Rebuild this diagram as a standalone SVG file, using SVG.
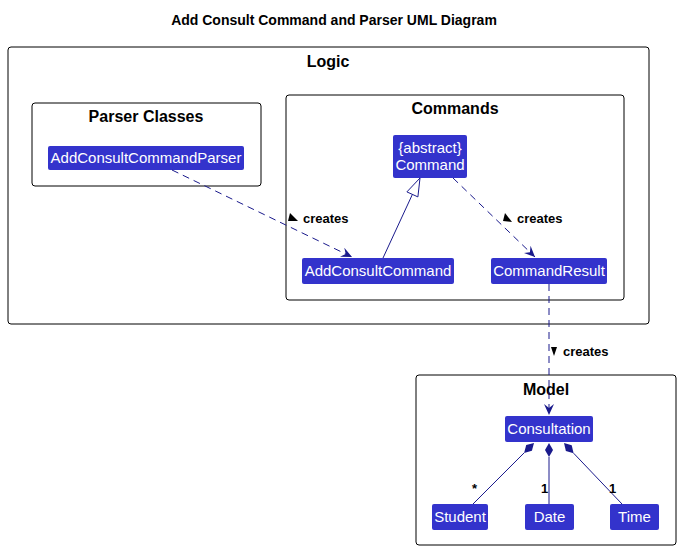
<svg xmlns="http://www.w3.org/2000/svg" width="680" height="551" viewBox="0 0 680 551">
<style>
.pkg{fill:none;stroke:#000;stroke-width:1}
.pt{font-family:"Liberation Sans",Arial,sans-serif;font-weight:bold;font-size:16px;fill:#000;text-anchor:middle}
.node{fill:#3333CC;stroke:none}
.nt{font-family:"Liberation Sans",Arial,sans-serif;font-size:15px;fill:#fff;text-anchor:middle}
.edge{fill:none;stroke:#1A1A8C;stroke-width:1}
.dash{stroke-dasharray:7,5}
.lbl{font-family:"Liberation Sans",Arial,sans-serif;font-weight:bold;font-size:13px;fill:#000}
.tri{fill:#000}
</style>
<defs>
<marker id="open" viewBox="0 0 11 10" refX="11" refY="5" markerWidth="11" markerHeight="10" markerUnits="userSpaceOnUse" orient="auto">
<path d="M0,0 L11,5 L0,10 L4,5 Z" fill="#1A1A8C"/>
</marker>
</defs>
<rect width="680" height="551" fill="#fff"/>
<text x="334" y="25" font-family="Liberation Sans,Arial,sans-serif" font-weight="bold" font-size="14" text-anchor="middle">Add Consult Command and Parser UML Diagram</text>

<g id="logic">
<rect class="pkg" x="8" y="47" width="641" height="277" rx="3"/>
<text class="pt" x="328" y="67">Logic</text>
</g>
<g id="parser-classes">
<rect class="pkg" x="32" y="103" width="229" height="83" rx="3"/>
<text class="pt" x="146" y="122">Parser Classes</text>
</g>
<g id="commands">
<rect class="pkg" x="286" y="95" width="338" height="205" rx="3"/>
<text class="pt" x="455" y="114">Commands</text>
</g>
<g id="model">
<rect class="pkg" x="416" y="375" width="260" height="170" rx="3"/>
<text class="pt" x="546" y="395">Model</text>
</g>

<g id="AddConsultCommandParser">
<rect class="node" x="48" y="146" width="196" height="24" rx="2"/>
<text class="nt" x="146" y="163">AddConsultCommandParser</text>
</g>
<g id="Command">
<rect class="node" x="393" y="135" width="74" height="43" rx="2"/>
<text class="nt" x="430" y="153">{abstract}</text>
<text class="nt" x="430" y="170">Command</text>
</g>
<g id="AddConsultCommand">
<rect class="node" x="302" y="258" width="152" height="26" rx="2"/>
<text class="nt" x="378" y="276">AddConsultCommand</text>
</g>
<g id="CommandResult">
<rect class="node" x="491" y="258" width="116" height="26" rx="2"/>
<text class="nt" x="549" y="276">CommandResult</text>
</g>
<g id="Consultation">
<rect class="node" x="505" y="416" width="88" height="26" rx="2"/>
<text class="nt" x="549" y="434">Consultation</text>
</g>
<g id="Student">
<rect class="node" x="432" y="504" width="56" height="26" rx="2"/>
<text class="nt" x="460" y="522">Student</text>
</g>
<g id="Date">
<rect class="node" x="525" y="504" width="49" height="26" rx="2"/>
<text class="nt" x="549.5" y="522">Date</text>
</g>
<g id="Time">
<rect class="node" x="610" y="504" width="49" height="26" rx="2"/>
<text class="nt" x="634.5" y="522">Time</text>
</g>

<g id="connectors">
<line class="edge dash" x1="172" y1="170" x2="352" y2="257" marker-end="url(#open)"/>
<polygon class="tri" points="290,213 298,221 288,221"/>
<text class="lbl" x="303" y="223">creates</text>

<line class="edge dash" x1="453" y1="178" x2="535" y2="257" marker-end="url(#open)"/>
<polygon class="tri" points="505,213 512,222 503,221"/>
<text class="lbl" x="517" y="223">creates</text>

<line class="edge dash" x1="549" y1="284" x2="549" y2="415" marker-end="url(#open)"/>
<polygon class="tri" points="551,347 557,347 554,356"/>
<text class="lbl" x="563" y="356">creates</text>

<line class="edge" x1="383" y1="258" x2="412.4" y2="194.4"/>
<polygon points="420,178 406.9,191.9 417.9,196.9" fill="#fff" stroke="#1A1A8C" stroke-width="1"/>

<line class="edge" x1="473" y1="504" x2="524.1" y2="452.9"/>
<polygon points="534,443 531.9,450.8 524.1,452.9 526.2,445.1" fill="#1A1A8C"/>
<line class="edge" x1="549" y1="504" x2="549" y2="457"/>
<polygon points="549,443 553,450 549,457 545,450" fill="#1A1A8C"/>
<line class="edge" x1="622" y1="504" x2="573.6" y2="453.2"/>
<polygon points="564,443 571.7,445.3 573.6,453.2 565.9,450.9" fill="#1A1A8C"/>

<text class="lbl" x="472" y="493" font-size="12">*</text>
<text class="lbl" x="541" y="493">1</text>
<text class="lbl" x="609" y="493">1</text>
</g>
</svg>
